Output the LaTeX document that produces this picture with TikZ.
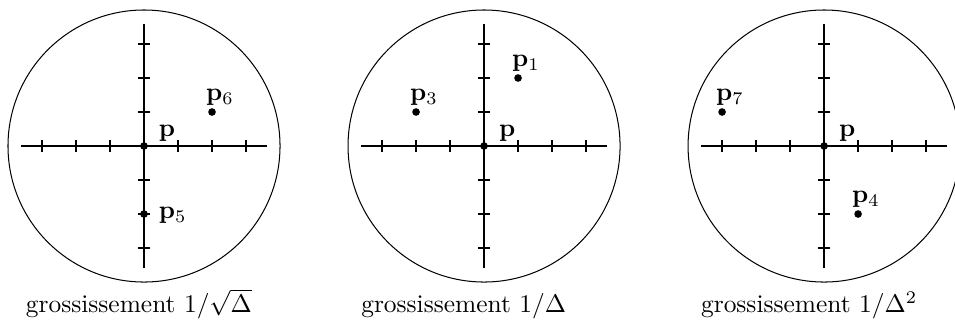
\documentclass[tikz,border=0pt]{standalone}
\usepackage{amsmath}
\begin{document}
\begin{tikzpicture}[x=0.47cm,y=0.47cm,
  axe/.style={line width=1pt},
  pt/.style={circle,fill,inner sep=0pt,minimum size=3pt},
  etiq/.style={anchor=base west,inner sep=0pt},
  haut/.style={etiq,xshift=-0.9mm,yshift=1.6mm},
  droite/.style={etiq,xshift=2mm,yshift=-0.6mm},
  origine/.style={etiq,xshift=2mm,yshift=1.35mm}]
\useasboundingbox (-4.235,-5.147) rectangle (23.85,4.294);
% les trois loupes
\foreach \c in {0,10,20} {
  \draw[line width=0.4pt] (\c,0) circle (4);
  \draw[axe] (\c-3.62,0) -- (\c+3.62,0);
  \draw[axe] (\c,-3.6) -- (\c,3.6);
  \foreach \k in {-3,-2,-1,1,2,3} {
    \draw[axe] (\c+\k,-0.18) -- (\c+\k,0.18);
    \draw[axe] (\c-0.18,\k) -- (\c+0.18,\k);
  }
}
% grossissement 1/sqrt(Delta)
\node[pt] (o1) at (0,0) {};
\node[origine] (lo1) at (o1) {$\mathbf{p}$};
\node[pt] (p6) at (2,1) {};
\node[haut] (lp6) at (p6) {$\mathbf{p}_6$};
\node[pt] (p5) at (0,-2) {};
\node[droite] (lp5) at (p5) {$\mathbf{p}_5$};
% grossissement 1/Delta
\node[pt] (o2) at (10,0) {};
\node[origine] (lo2) at (o2) {$\mathbf{p}$};
\node[pt] (p1) at (11,2) {};
\node[haut] (lp1) at (p1) {$\mathbf{p}_1$};
\node[pt] (p3) at (8,1) {};
\node[haut] (lp3) at (p3) {$\mathbf{p}_3$};
% grossissement 1/Delta^2
\node[pt] (o3) at (20,0) {};
\node[origine] (lo3) at (o3) {$\mathbf{p}$};
\node[pt] (p7) at (17,1) {};
\node[haut] (lp7) at (p7) {$\mathbf{p}_7$};
\node[pt] (p4) at (21,-2) {};
\node[haut] (lp4) at (p4) {$\mathbf{p}_4$};
% legendes
\node[anchor=base] (g1) at (-0.15,-4.91) {grossissement $1/\sqrt{\Delta}$};
\node[anchor=base] (g2) at (9.40,-4.91) {grossissement $1/\Delta$};
\node[anchor=base] (g3) at (19.56,-4.91) {grossissement $1/\Delta^2$};
\end{tikzpicture}
\end{document}
